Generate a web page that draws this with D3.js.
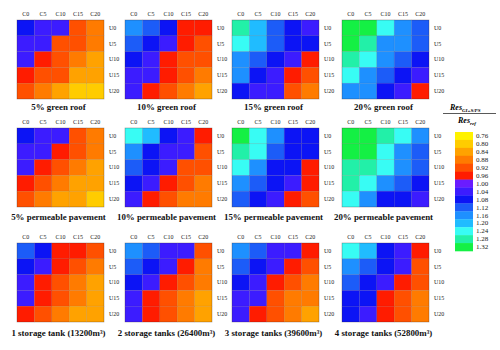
<!DOCTYPE html>
<html>
<head>
<meta charset="utf-8">
<script src="https://cdn.jsdelivr.net/npm/d3@7"></script>
<style>
  body { margin: 0; background: #fff; }
  svg { font-family: "Liberation Serif", "DejaVu Serif", serif; }
  .tick text { fill: #222; }
  .title { font-weight: bold; font-size: 8.9px; fill: #111; }
</style>
</head>
<body>
<svg width="500" height="350"></svg>
<script>
const cols = ["C0", "C5", "C10", "C15", "C20"];
const rows = ["U0", "U5", "U10", "U15", "U20"];

const titles = [
  "5% green roof", "10% green roof", "15% green roof", "20% green roof",
  "5% permeable pavement", "10% permeable pavement", "15% permeable pavement", "20% permeable pavement",
  "1 storage tank (13200m³)", "2 storage tanks (26400m³)", "3 storage tanks (39600m³)", "4 storage tanks (52800m³)"
];

// rows U0..U20, columns C0..C20
const greenRoof5 = [
  [1.08, 1.04, 1.04, 0.92, 0.88],
  [1.04, 1.04, 0.92, 0.92, 0.88],
  [1.04, 0.96, 0.92, 0.88, 0.84],
  [0.96, 0.92, 0.92, 0.84, 0.84],
  [0.92, 0.88, 0.84, 0.80, 0.80]
];
const greenRoof10 = [
  [1.16, 1.12, 1.08, 0.96, 0.96],
  [1.12, 1.08, 1.04, 0.96, 0.92],
  [1.08, 1.04, 0.96, 0.92, 0.92],
  [1.04, 1.04, 0.96, 0.92, 0.88],
  [1.04, 0.96, 0.92, 0.88, 0.84]
];
const greenRoof15 = [
  [1.28, 1.20, 1.12, 1.08, 1.04],
  [1.24, 1.20, 1.12, 1.08, 1.08],
  [1.16, 1.12, 1.08, 1.04, 0.96],
  [1.16, 1.08, 1.04, 0.96, 0.92],
  [1.08, 1.04, 1.04, 0.92, 0.88]
];
const greenRoof20 = [
  [1.32, 1.32, 1.24, 1.16, 1.12],
  [1.32, 1.28, 1.16, 1.16, 1.12],
  [1.28, 1.24, 1.16, 1.12, 1.08],
  [1.24, 1.16, 1.12, 1.08, 1.04],
  [1.16, 1.16, 1.08, 1.04, 0.96]
];
const pavement5 = [
  [1.08, 1.04, 1.04, 0.92, 0.88],
  [1.04, 1.04, 0.96, 0.92, 0.88],
  [1.04, 0.96, 0.92, 0.88, 0.84],
  [0.96, 0.92, 0.88, 0.84, 0.84],
  [0.92, 0.88, 0.84, 0.84, 0.80]
];
const pavement10 = [
  [1.24, 1.20, 1.08, 1.04, 0.96],
  [1.16, 1.08, 1.04, 1.04, 0.92],
  [1.12, 1.08, 1.04, 0.92, 0.92],
  [1.08, 1.04, 0.96, 0.92, 0.88],
  [1.04, 0.96, 0.92, 0.88, 0.88]
];
const pavement15 = [
  [1.32, 1.24, 1.16, 1.08, 1.08],
  [1.28, 1.24, 1.12, 1.08, 1.08],
  [1.24, 1.16, 1.08, 1.08, 0.96],
  [1.16, 1.12, 1.08, 1.04, 0.96],
  [1.12, 1.08, 1.04, 0.96, 0.92]
];
const pavement20 = [
  [1.32, 1.32, 1.28, 1.24, 1.16],
  [1.32, 1.32, 1.24, 1.16, 1.12],
  [1.28, 1.28, 1.24, 1.16, 1.12],
  [1.28, 1.24, 1.16, 1.12, 1.08],
  [1.24, 1.16, 1.08, 1.08, 1.04]
];
const tank1 = [
  [1.12, 1.08, 0.96, 0.96, 0.92],
  [1.08, 1.04, 0.96, 0.92, 0.88],
  [1.04, 0.96, 0.92, 0.88, 0.84],
  [1.04, 0.96, 0.92, 0.88, 0.84],
  [0.96, 0.92, 0.88, 0.84, 0.84]
];
const tank2 = [
  [1.16, 1.12, 1.04, 1.04, 0.92],
  [1.12, 1.08, 1.04, 0.96, 0.88],
  [1.08, 1.04, 0.96, 0.92, 0.88],
  [1.04, 0.96, 0.92, 0.88, 0.84],
  [1.04, 0.96, 0.92, 0.88, 0.84]
];
const tank3 = [
  [1.16, 1.12, 1.04, 1.04, 0.96],
  [1.12, 1.08, 1.04, 0.96, 0.92],
  [1.08, 1.04, 0.96, 0.92, 0.88],
  [1.04, 1.04, 0.92, 0.88, 0.88],
  [1.04, 0.96, 0.92, 0.88, 0.84]
];
const tank4 = [
  [1.24, 1.20, 1.08, 1.04, 0.96],
  [1.16, 1.12, 1.08, 1.04, 0.92],
  [1.12, 1.08, 1.04, 0.96, 0.92],
  [1.08, 1.08, 0.96, 0.92, 0.88],
  [1.08, 1.04, 0.96, 0.92, 0.88]
];

const panels = [greenRoof5, greenRoof10, greenRoof15, greenRoof20,
                pavement5, pavement10, pavement15, pavement20,
                tank1, tank2, tank3, tank4];

const legendTicks = [0.76, 0.80, 0.84, 0.88, 0.92, 0.96, 1.00, 1.04, 1.08, 1.12, 1.16, 1.20, 1.24, 1.28, 1.32];
const legendColors = ["#fff200", "#ffcc00", "#ffa200", "#ff7b00", "#ff5000", "#ff1c00",
                      "#6a1cff", "#3c1cff", "#0c14f5", "#1c5cf8", "#1e90ff", "#20bcff",
                      "#38fcf4", "#22f0a8", "#14f044"];

const color = d3.scaleThreshold()
  .domain(legendTicks.slice(1).map((t, i) => (t + legendTicks[i]) / 2))
  .range(legendColors);

const svg = d3.select("svg");

const panelX = [17, 125, 232, 342],
      panelY = [20, 128, 243],
      titleGap = [11, 12.5, 13.5],
      pw = 87, ph = 79;

const x = d3.scaleBand().domain(cols).range([0, pw]);
const y = d3.scaleBand().domain(rows).range([0, ph]);

panels.forEach((grid, p) => {
  const row = Math.floor(p / 4);
  const g = svg.append("g")
    .attr("transform", `translate(${panelX[p % 4]},${panelY[row]})`);

  const cells = [];
  grid.forEach((r, i) => r.forEach((v, j) => cells.push({ row: rows[i], col: cols[j], v })));

  g.selectAll("rect.cell")
    .data(cells)
    .enter()
    .append("rect")
    .attr("class", "cell")
    .attr("x", d => x(d.col))
    .attr("y", d => y(d.row))
    .attr("width", x.bandwidth())
    .attr("height", y.bandwidth())
    .attr("fill", d => color(d.v))
    .attr("stroke", "rgba(60,40,40,0.18)")
    .attr("stroke-width", 0.5);

  g.append("rect")
    .attr("width", pw)
    .attr("height", ph)
    .attr("fill", "none")
    .attr("stroke", "rgba(60,40,40,0.35)")
    .attr("stroke-width", 0.6);

  // column labels
  g.append("g")
    .call(d3.axisTop(x).tickSize(0).tickPadding(4))
    .attr("font-family", "Liberation Serif")
    .attr("font-size", 6)
    .call(a => a.select(".domain").remove());

  // row labels
  g.append("g")
    .attr("transform", `translate(${pw},0)`)
    .call(d3.axisRight(y).tickSize(0).tickPadding(5))
    .attr("font-family", "Liberation Serif")
    .attr("font-size", 6)
    .call(a => a.select(".domain").remove());

  g.append("text")
    .attr("class", "title")
    .attr("x", pw / 2 - 2)
    .attr("y", ph + titleGap[row])
    .attr("text-anchor", "middle")
    .text(titles[p]);
});

// Legend
const lx = 455, lw = 18;
const ly = d3.scaleBand().domain(legendTicks).range([132, 251]);

svg.selectAll(".leg")
  .data(legendTicks)
  .enter()
  .append("rect")
  .attr("class", "leg")
  .attr("x", lx)
  .attr("y", d => ly(d))
  .attr("width", lw)
  .attr("height", ly.bandwidth() + 0.3)
  .attr("fill", d => color(d));

svg.append("g")
  .attr("transform", `translate(${lx + lw},0)`)
  .call(d3.axisRight(ly).tickSize(0).tickPadding(3).tickFormat(d3.format(".2f")))
  .attr("font-family", "Liberation Serif")
  .attr("font-size", 7)
  .call(a => a.select(".domain").remove());

// fraction label
const frac = svg.append("g")
  .style("font-weight", "bold")
  .style("font-style", "italic")
  .style("font-size", "8px");

const num = frac.append("text").attr("x", 450).attr("y", 110);
num.append("tspan").text("Res");
num.append("tspan").attr("dy", 2).style("font-size", "5px").text("GI+S/PS");

frac.append("line")
  .attr("x1", 443).attr("x2", 496)
  .attr("y1", 113.5).attr("y2", 113.5)
  .attr("stroke", "#111")
  .attr("stroke-width", 0.7);

const den = frac.append("text").attr("x", 458).attr("y", 123);
den.append("tspan").text("Res");
den.append("tspan").attr("dy", 2).style("font-size", "5px").text("ref");
</script>
</body>
</html>
